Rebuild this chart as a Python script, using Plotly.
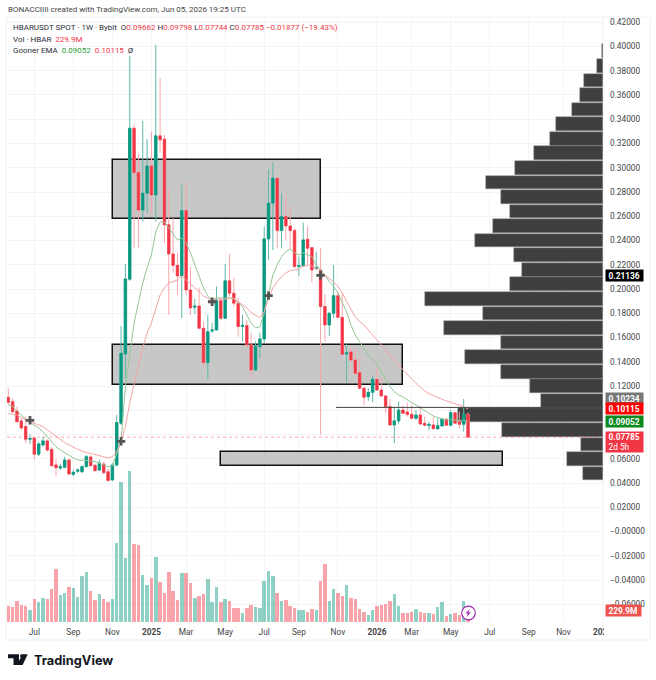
import pandas as pd
import plotly.graph_objects as go

# weekly HBARUSDT candles, first bar May 20 2024
dates = pd.date_range("2024-05-20", periods=107, freq="7D")

opens = [
    0.1107, 0.1071, 0.0994, 0.0912, 0.0865, 0.0761, 0.0771, 0.0637, 0.0714, 0.0747,
    0.0678, 0.0549, 0.0524, 0.0530, 0.0590, 0.0472, 0.0497, 0.0493, 0.0535, 0.0615,
    0.0546, 0.0507, 0.0557, 0.0493, 0.0425, 0.0549, 0.0893, 0.1464, 0.2081, 0.3326,
    0.2960, 0.2652, 0.2790, 0.3015, 0.2776, 0.3263, 0.3236, 0.2529, 0.2289, 0.2195,
    0.2108, 0.2647, 0.1992, 0.1850, 0.1860, 0.1676, 0.1393, 0.1654, 0.1662, 0.1904,
    0.1759, 0.2067, 0.1965, 0.1883, 0.1691, 0.1698, 0.1539, 0.1332, 0.1525, 0.1588,
    0.2413, 0.2708, 0.2914, 0.2482, 0.2597, 0.2520, 0.2482, 0.2186, 0.2190, 0.2411,
    0.2341, 0.2170, 0.2157, 0.1855, 0.1704, 0.1800, 0.1945, 0.1766, 0.1464, 0.1481,
    0.1415, 0.1310, 0.1181, 0.1112, 0.1148, 0.1256, 0.1167, 0.1118, 0.1030, 0.0879,
    0.0912, 0.1002, 0.0986, 0.0967, 0.0934, 0.0961, 0.0893, 0.0875, 0.0879, 0.0846,
    0.0870, 0.0926, 0.0876, 0.0980, 0.0906, 0.0884, 0.09662,
]
highs = [
    0.1181, 0.1101, 0.1030, 0.0936, 0.0947, 0.0804, 0.0782, 0.0741, 0.0782, 0.0761,
    0.0695, 0.0596, 0.0557, 0.0617, 0.0601, 0.0507, 0.0521, 0.0549, 0.0631, 0.0631,
    0.0557, 0.0590, 0.0576, 0.0524, 0.0565, 0.0961, 0.1695, 0.2207, 0.3923, 0.3354,
    0.3114, 0.3387, 0.3238, 0.3298, 0.4014, 0.3741, 0.3271, 0.2826, 0.2586, 0.2300,
    0.2859, 0.2878, 0.2182, 0.1918, 0.2011, 0.1728, 0.1786, 0.1720, 0.2020, 0.1926,
    0.2207, 0.2289, 0.2089, 0.1926, 0.1786, 0.1745, 0.1638, 0.1566, 0.1638, 0.2515,
    0.2988, 0.3046, 0.2916, 0.2790, 0.2762, 0.2680, 0.2501, 0.2267, 0.2548, 0.2520,
    0.2347, 0.2308, 0.2336, 0.1959, 0.1813, 0.2199, 0.1978, 0.1968, 0.1555, 0.1514,
    0.1514, 0.1431, 0.1195, 0.1184, 0.1283, 0.1349, 0.1269, 0.1126, 0.1093, 0.1030,
    0.1071, 0.1038, 0.1063, 0.1044, 0.1002, 0.1038, 0.0947, 0.0906, 0.0947, 0.0934,
    0.0939, 0.0932, 0.1002, 0.0986, 0.0988, 0.1093, 0.09798,
]
lows = [
    0.1044, 0.0978, 0.0895, 0.0837, 0.0730, 0.0722, 0.0590, 0.0623, 0.0700, 0.0658,
    0.0535, 0.0458, 0.0507, 0.0521, 0.0469, 0.0458, 0.0485, 0.0485, 0.0530, 0.0535,
    0.0493, 0.0499, 0.0474, 0.0408, 0.0417, 0.0535, 0.0879, 0.1266, 0.2067, 0.2339,
    0.2339, 0.2556, 0.2628, 0.2625, 0.2556, 0.3125, 0.2380, 0.1786, 0.2133, 0.1951,
    0.1761, 0.1951, 0.1786, 0.1794, 0.1668, 0.1360, 0.1256, 0.1638, 0.1657, 0.1745,
    0.1753, 0.1937, 0.1855, 0.1607, 0.1566, 0.1514, 0.1266, 0.1324, 0.1431, 0.1555,
    0.2240, 0.2322, 0.2336, 0.2336, 0.2405, 0.2322, 0.2174, 0.2108, 0.2185, 0.2199,
    0.2053, 0.2157, 0.0796, 0.1566, 0.1613, 0.1761, 0.1759, 0.1456, 0.1228, 0.1398,
    0.1291, 0.1176, 0.1038, 0.1077, 0.1066, 0.1162, 0.1112, 0.0978, 0.0870, 0.0728,
    0.0884, 0.0969, 0.0947, 0.0926, 0.0920, 0.0879, 0.0865, 0.0837, 0.0843, 0.0843,
    0.0865, 0.0870, 0.0873, 0.0887, 0.0851, 0.0823, 0.07744,
]
closes = [
    0.1066, 0.0988, 0.0906, 0.0854, 0.0761, 0.0766, 0.0637, 0.0722, 0.0747, 0.0672,
    0.0543, 0.0526, 0.0535, 0.0590, 0.0474, 0.0488, 0.0507, 0.0535, 0.0617, 0.0543,
    0.0502, 0.0563, 0.0485, 0.0421, 0.0549, 0.0898, 0.1470, 0.2083, 0.3326, 0.2960,
    0.2652, 0.2790, 0.3015, 0.2776, 0.3263, 0.3230, 0.2529, 0.2289, 0.2195, 0.2108,
    0.2647, 0.1992, 0.1844, 0.1859, 0.1676, 0.1393, 0.1648, 0.1662, 0.1904, 0.1759,
    0.2067, 0.1965, 0.1883, 0.1690, 0.1700, 0.1539, 0.1332, 0.1530, 0.1588, 0.2413,
    0.2708, 0.2914, 0.2482, 0.2597, 0.2520, 0.2482, 0.2185, 0.2193, 0.2405, 0.2336,
    0.2157, 0.2178, 0.1855, 0.1704, 0.1800, 0.1945, 0.1766, 0.1462, 0.1475, 0.1415,
    0.1305, 0.1181, 0.1107, 0.1148, 0.1256, 0.1167, 0.1118, 0.1030, 0.0879, 0.0912,
    0.1002, 0.0975, 0.0964, 0.0934, 0.0961, 0.0887, 0.0876, 0.0883, 0.0848, 0.0873,
    0.0926, 0.0876, 0.0980, 0.0893, 0.0884, 0.0969, 0.07785,
]
# volume in millions of HBAR
volumes = [
    320, 300, 427, 347, 313, 240, 467, 400, 480, 467,
    667, 1067, 533, 587, 693, 680, 493, 913, 993, 627,
    440, 560, 453, 400, 453, 1587, 2800, 1273, 3013, 1567,
    1533, 933, 747, 880, 1307, 800, 587, 1000, 613, 440,
    973, 973, 773, 480, 520, 560, 867, 400, 693, 400,
    453, 427, 287, 273, 173, 273, 347, 293, 287, 813,
    1027, 920, 573, 413, 440, 313, 280, 240, 233, 200,
    267, 233, 827, 1153, 427, 653, 573, 520, 733, 480,
    467, 267, 200, 133, 240, 320, 347, 360, 427, 560,
    320, 173, 187, 200, 267, 200, 173, 173, 160, 293,
    400, 120, 160, 173, 133, 427, 229.9,
]
ema_fast = [
    0.1044, 0.1030, 0.0997, 0.0961, 0.0926, 0.0901, 0.0879, 0.0854, 0.0823, 0.0782,
    0.0741, 0.0700, 0.0672, 0.0648, 0.0623, 0.0606, 0.0590, 0.0590, 0.0584, 0.0584,
    0.0576, 0.0563, 0.0549, 0.0535, 0.0540, 0.0645, 0.0744, 0.1195, 0.1456, 0.1720,
    0.1885, 0.2050, 0.2174, 0.2281, 0.2471, 0.2553, 0.2553, 0.2504, 0.2446, 0.2405,
    0.2421, 0.2380, 0.2298, 0.2199, 0.2091, 0.2009, 0.1943, 0.1910, 0.1926, 0.1926,
    0.1926, 0.1926, 0.1918, 0.1885, 0.1855, 0.1786, 0.1720, 0.1679, 0.1687, 0.1803,
    0.1968, 0.2116, 0.2199, 0.2267, 0.2308, 0.2331, 0.2298, 0.2281, 0.2298, 0.2281,
    0.2267, 0.2199, 0.2157, 0.2116, 0.2061, 0.2020, 0.1968, 0.1896, 0.1811, 0.1704,
    0.1621, 0.1566, 0.1514, 0.1456, 0.1415, 0.1382, 0.1318, 0.1250, 0.1195, 0.1153,
    0.1126, 0.1110, 0.1085, 0.1063, 0.1044, 0.1021, 0.0997, 0.0975, 0.0953, 0.0939,
    0.0928, 0.0920, 0.0926, 0.0920, 0.0912, 0.0920, 0.09052,
]
ema_slow = [
    0.0972, 0.0969, 0.0961, 0.0942, 0.0920, 0.0906, 0.0895, 0.0879, 0.0865, 0.0837,
    0.0813, 0.0782, 0.0755, 0.0733, 0.0714, 0.0695, 0.0678, 0.0664, 0.0650, 0.0645,
    0.0634, 0.0623, 0.0615, 0.0606, 0.0617, 0.0658, 0.0741, 0.0865, 0.1060, 0.1225,
    0.1374, 0.1514, 0.1638, 0.1720, 0.1827, 0.1951, 0.2009, 0.2050, 0.2061, 0.2075,
    0.2108, 0.2075, 0.2034, 0.2009, 0.1978, 0.1943, 0.1924, 0.1904, 0.1916, 0.1916,
    0.1916, 0.1924, 0.1924, 0.1896, 0.1869, 0.1844, 0.1805, 0.1784, 0.1764, 0.1813,
    0.1926, 0.2009, 0.2061, 0.2102, 0.2133, 0.2152, 0.2157, 0.2163, 0.2190, 0.2196,
    0.2190, 0.2174, 0.2143, 0.2116, 0.2091, 0.2058, 0.2020, 0.1968, 0.1896, 0.1827,
    0.1770, 0.1731, 0.1704, 0.1662, 0.1621, 0.1580, 0.1547, 0.1497, 0.1448, 0.1409,
    0.1368, 0.1332, 0.1291, 0.1258, 0.1223, 0.1190, 0.1159, 0.1137, 0.1120, 0.1104,
    0.1091, 0.1077, 0.1066, 0.1054, 0.1044, 0.1030, 0.10115,
]
# EMA cross markers
cross_dates = ["2024-06-24", "2024-11-18", "2025-04-14", "2025-07-14", "2025-10-06"]
cross_prices = [0.0917, 0.0744, 0.1895, 0.1945, 0.2113]

# volume profile rows on the right
profile_prices = [
    0.3960, 0.3840, 0.3720, 0.3600, 0.3480, 0.3360, 0.3239, 0.3119, 0.2999, 0.2879,
    0.2759, 0.2639, 0.2519, 0.2399, 0.2279, 0.2159, 0.2039, 0.1919, 0.1798, 0.1678,
    0.1558, 0.1438, 0.1318, 0.1198, 0.1078, 0.0958, 0.0838, 0.0718, 0.0598, 0.0478,
]
profile_sizes = [
    2, 19, 58, 70, 93, 142, 159, 208, 264, 350,
    306, 278, 330, 384, 268, 244, 279, 533, 361, 477,
    306, 414, 306, 218, 187, 435, 304, 66, 108, 59,
]

# drawn zones: start, end, top, bottom
zone_starts = ["2024-11-05", "2024-11-05", "2025-04-28"]
zone_ends = ["2025-10-06", "2026-02-16", "2026-07-27"]
zone_tops = [0.3063, 0.1538, 0.0656]
zone_bottoms = [0.2578, 0.1208, 0.0540]
level_price = 0.10234
level_start = "2025-10-31"
last_close = 0.07785

price_ticks = [0.42, 0.40, 0.38, 0.36, 0.34, 0.32, 0.30, 0.28, 0.26, 0.24, 0.22, 0.20, 0.18, 0.16,
               0.14, 0.12, 0.10, 0.08, 0.06, 0.04, 0.02, 0.0, -0.02, -0.04, -0.06]
# 0.10 and 0.08 sit hidden behind the last price tags
price_labels = ["0.42000", "0.40000", "0.38000", "0.36000", "0.34000", "0.32000", "0.30000",
                "0.28000", "0.26000", "0.24000", "0.22000", "0.20000", "0.18000", "0.16000",
                "0.14000", "0.12000", "", "", "0.06000", "0.04000", "0.02000", "\u22120.00000",
                "\u22120.02000", "\u22120.04000", "\u22120.06000"]
time_ticks = ["2024-07-01", "2024-09-02", "2024-11-04", "2025-01-06", "2025-03-03", "2025-05-05",
              "2025-07-07", "2025-09-01", "2025-11-03", "2026-01-05", "2026-03-02", "2026-05-04",
              "2026-07-06", "2026-09-07", "2026-11-02", "2027-01-04"]
time_labels = ["Jul", "Sep", "Nov", "<b>2025</b>", "Mar", "May", "Jul", "Sep", "Nov", "<b>2026</b>",
               "Mar", "May", "Jul", "Sep", "Nov", "<b>2027</b>"]

UP = "#089981"
DOWN = "#f23645"
FONT = "Roboto"
LEFT, RIGHT, TOP, BOTTOM = 7, 603, 18, 622


# page pixel -> paper coordinate, for furniture that is not data
def px(x):
    return (x - LEFT) / (RIGHT - LEFT)


def py(y):
    return (BOTTOM - y) / (BOTTOM - TOP)


def page_path(points):
    return "M" + " L".join(f"{px(a):.5f},{py(b):.5f}" for a, b in points) + " Z"


fig = go.Figure()

# bars sit on the main subplot so the candles overlay them
fig.add_trace(go.Bar(
    x=profile_sizes, y=profile_prices, orientation="h", width=0.0113,
    marker=dict(color="#3f3f3f", line=dict(width=0.5, color="#8c8c8c")),
    xaxis="x", yaxis="y", hoverinfo="skip",
))
# zones as bars: they stay under the candles and over the grid
starts = pd.to_datetime(zone_starts)
ends = pd.to_datetime(zone_ends)
fig.add_trace(go.Bar(
    x=starts + (ends - starts) / 2,
    y=[t - b for t, b in zip(zone_tops, zone_bottoms)], base=zone_bottoms,
    width=[(e - s).total_seconds() * 1000 for s, e in zip(starts, ends)],
    marker=dict(color="rgba(178,178,178,0.72)", line=dict(color="#111111", width=1.5)),
    xaxis="x2", yaxis="y", hoverinfo="skip",
))
fig.add_trace(go.Bar(
    x=dates, y=volumes, width=7 * 24 * 3600 * 1000 * 0.8,
    marker=dict(color=[UP if c >= o else DOWN for o, c in zip(opens, closes)], opacity=0.45,
                line=dict(width=0)),
    xaxis="x2", yaxis="y2",
))
# wicks first in the pale colours, then the solid bodies
fig.add_trace(go.Candlestick(
    x=dates, open=opens, high=highs, low=lows, close=closes, xaxis="x2", yaxis="y",
    increasing=dict(line=dict(color="#5fb9aa", width=1), fillcolor="#5fb9aa"),
    decreasing=dict(line=dict(color="#f7a6ac", width=1), fillcolor="#f7a6ac"),
    whiskerwidth=0,
))
fig.add_trace(go.Candlestick(
    x=dates, open=opens, close=closes,
    high=[max(o, c) for o, c in zip(opens, closes)],
    low=[min(o, c) for o, c in zip(opens, closes)],
    xaxis="x2", yaxis="y",
    increasing=dict(line=dict(color=UP, width=0.5), fillcolor=UP),
    decreasing=dict(line=dict(color=DOWN, width=0.5), fillcolor=DOWN),
    whiskerwidth=0,
))
fig.add_trace(go.Scatter(x=dates, y=ema_fast, mode="lines", xaxis="x2", yaxis="y",
                         line=dict(color="#93c795", width=1)))
fig.add_trace(go.Scatter(x=dates, y=ema_slow, mode="lines", xaxis="x2", yaxis="y",
                         line=dict(color="#f5a3a3", width=1)))
fig.add_trace(go.Scatter(x=cross_dates, y=cross_prices, mode="markers", xaxis="x2", yaxis="y",
                         marker=dict(symbol="cross", size=7, color="#555555")))

shapes = []
shapes.append(dict(type="line", xref="x2", yref="y", x0=level_start, x1="2027-01-04", y0=level_price,
                   y1=level_price, line=dict(color="#444444", width=1)))
shapes.append(dict(type="line", xref="paper", yref="y", x0=0, x1=1, y0=last_close, y1=last_close,
                   layer="above", line=dict(color="rgba(242,54,69,0.6)", width=0.7, dash="dot")))
# pane frame, price scale edge, and mask that cuts the last time label
shapes.append(dict(type="rect", xref="paper", yref="paper", x0=px(6), x1=px(650), y0=py(640), y1=py(17),
                   layer="below", line=dict(color="#eef0f4", width=1)))
shapes.append(dict(type="line", xref="paper", yref="paper", x0=1, x1=1, y0=py(640), y1=1,
                   layer="below", line=dict(color="#eef0f4", width=1)))
shapes.append(dict(type="rect", xref="paper", yref="paper", x0=px(604), x1=px(640), y0=py(639), y1=py(623),
                   layer="above", fillcolor="white", line=dict(width=0)))
# lightning badge on the last bar
shapes.append(dict(type="circle", xref="paper", yref="paper", x0=px(461.7), x1=px(475.3), y0=py(619.8),
                   y1=py(606.2), layer="above", fillcolor="white", line=dict(color="#9c27b0", width=1.2)))
shapes.append(dict(type="path", xref="paper", yref="paper", layer="above", fillcolor="#9c27b0",
                   line=dict(width=0), path=page_path([(469.8, 609.0), (465.6, 613.6), (467.9, 613.6),
                                                       (466.4, 617.2), (470.8, 612.4), (468.5, 612.4)])))
# TradingView logo mark
shapes.append(dict(type="path", xref="paper", yref="paper", layer="above", fillcolor="#131722",
                   line=dict(width=0), path=page_path([(8, 654.2), (19, 654.2), (19, 665), (13.5, 665),
                                                       (13.5, 658.2), (8, 658.2)])))
shapes.append(dict(type="path", xref="paper", yref="paper", layer="above", fillcolor="#131722",
                   line=dict(width=0), path=page_path([(22.5, 654.2), (27.8, 654.2), (22.6, 665),
                                                       (16.8, 665)])))
shapes.append(dict(type="circle", xref="paper", yref="paper", layer="above", fillcolor="#131722",
                   line=dict(width=0), x0=px(20), x1=px(23.4), y0=py(657.6), y1=py(654.2)))

annotations = []


def text_at(x, y, text, size=8, color="#2a2e39", family=FONT):
    annotations.append(dict(xref="paper", yref="paper", x=px(x), y=py(y), text=text, showarrow=False,
                            xanchor="left", yanchor="middle", align="left",
                            font=dict(size=size, color=color, family=family)))


def red(s):
    return f'<span style="color:#f23645">{s}</span>'


text_at(6, 10, "BONACCIIII created with TradingView.com, Jun 05, 2026 19:25 UTC", color="#444444")
text_at(11, 27.5,
        "HBARUSDT SPOT \u00b7 1W \u00b7 Bybit&nbsp;&nbsp;O" + red("0.09662") + " H" + red("0.09798") + " L"
        + red("0.07744") + " C" + red("0.07785") + " " + red("\u22120.01877 (\u221219.43%)"))
text_at(11, 39, "Vol \u00b7 HBAR&nbsp;&nbsp;" + red("229.9M"))
text_at(11, 50.3, 'Gooner EMA&nbsp;&nbsp;<span style="color:#2e9e36">0.09052</span>&nbsp;&nbsp;'
        + red("0.10115") + "&nbsp;&nbsp;\u00d8")
text_at(32, 660.5, "<b>TradingView</b>", size=12.8, color="#131722", family="Inter")


def price_tag(value, text, bg, yref="y", height=10, shift=0, width=36):
    annotations.append(dict(xref="paper", yref=yref, x=px(605), y=value, text=text, showarrow=False,
                            xanchor="left", yanchor="middle", align="left", yshift=shift,
                            width=width, height=height, borderpad=0.5, bgcolor=bg,
                            font=dict(size=8.3, color="white", family=FONT)))


price_tag(0.21136, "&nbsp;<b>0.21136</b>", "#000000")
price_tag(0.10234, "&nbsp;<b>0.10234</b>", "#787878", shift=9.4)
price_tag(0.10115, "&nbsp;<b>0.10115</b>", "#ff0000")
price_tag(0.09052, "&nbsp;<b>0.09052</b>", "#0b8a20")
price_tag(last_close, "&nbsp;<b>0.07785</b><br>&nbsp;2d 5h", "#f23645", height=19, shift=-4.7)
price_tag(volumes[-1], "&nbsp;<b>229.9M</b>", "#ef5350", yref="y2", width=34)

grid = "#f3f4f7"
fig.update_layout(
    width=656, height=680, margin=dict(l=LEFT, r=656 - RIGHT, t=TOP, b=680 - BOTTOM),
    paper_bgcolor="white", plot_bgcolor="white", showlegend=False, bargap=0, barmode="overlay",
    boxgap=0.2, shapes=shapes, annotations=annotations,
    xaxis=dict(range=[1788, 0], visible=False, fixedrange=True),
    xaxis2=dict(
        overlaying="x", anchor="y", side="bottom", type="date",
        range=["2024-05-17 21:36", "2027-01-04 20:00"], rangeslider=dict(visible=False),
        tickmode="array", tickvals=time_ticks, ticktext=time_labels, ticks="", ticklabelstandoff=4,
        showgrid=True, gridcolor=grid, gridwidth=1, zeroline=False, showline=False,
        tickfont=dict(size=8.3, color="#444444", family=FONT),
    ),
    yaxis=dict(
        range=[-0.07464, 0.4235], side="right", anchor="x", tickmode="array",
        tickvals=price_ticks, ticktext=price_labels, ticks="", ticklabelstandoff=6,
        showgrid=True, gridcolor=grid, gridwidth=1, zeroline=False, showline=False,
        tickfont=dict(size=8.3, color="#444444", family=FONT),
    ),
    yaxis2=dict(range=[0, 12080], overlaying="y", anchor="x2", visible=False),
)

# drop the browser's default 8px body margin so the figure starts at the page corner
fig.write_html("out.html", config={"displayModeBar": False},
               post_script="document.body.style.margin='0';")
